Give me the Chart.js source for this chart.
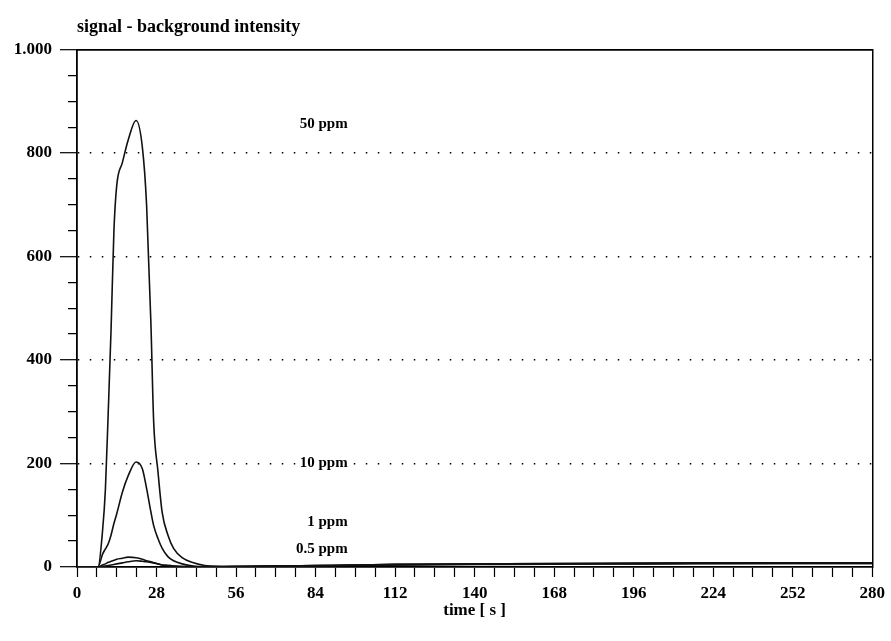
<!DOCTYPE html>
<html>
<head>
<meta charset="utf-8">
<script src="https://cdn.jsdelivr.net/npm/chart.js@4"></script>
<style>
  html, body { margin: 0; padding: 0; background: #fff; }
  #wrap { width: 891px; height: 641px; }
</style>
</head>
<body>
<div id="wrap"><canvas id="line"></canvas></div>
<script>
'use strict';

// time axis [s]
const times = [0, 4, 7.4, 9, 10, 11, 12, 13, 14, 16, 18, 20.8, 23, 24.5, 26, 27, 28.5, 30, 32, 34, 37, 41, 45, 55, 70, 90, 112, 150, 200, 250, 280];

// signal - background intensity for each concentration
const ppm50 = [0, 0, 0, 70, 150, 300, 460, 650, 738, 782, 825, 863, 812, 700, 475, 280, 185, 105, 62, 36, 18, 8, 3, 1, 2, 3, 5, 6, 7, 8, 8];
const ppm10 = [0, 0, 0, 25, 35, 45, 62, 84, 103, 145, 176, 203, 190, 152, 107, 80, 55, 36, 20, 12, 6, 2, 1, 1, 2, 3, 4, 6, 7, 7, 7];
const ppm1 = [0, 0, 0, 4, 6, 9, 11, 13, 15, 17, 19, 18, 15, 12, 10, 8, 6, 4, 3, 2, 1, 0, 0, 1, 2, 3, 4, 5, 6, 7, 7];
const ppm05 = [0, 0, 0, 1, 2, 3, 4, 5, 6, 8, 10, 12, 11, 10, 9, 8, 6, 4, 3, 2, 1, 0, 0, 1, 2, 3, 5, 6, 7, 8, 8];

const seriesNames = ['50 ppm', '10 ppm', '1 ppm', '0.5 ppm'];
const seriesValues = [ppm50, ppm10, ppm1, ppm05];

// tick values
const xMin = 0, xMax = 280, xStep = 7, xLabelStep = 28;
const yMin = 0, yMax = 1000, yStep = 50, yLabelStep = 200;

// where the curve names sit (time, value)
const nameTimes = [95.3, 95.3, 95.3, 95.3];
const nameValues = [855, 200, 87, 35];

const serif = "'Liberation Serif', 'DejaVu Serif', serif";

const curveNames = {
    id: 'curveNames',
    afterDatasetsDraw(chart) {
        const {ctx, scales: {x, y}} = chart;
        ctx.save();
        ctx.font = 'bold 15px ' + serif;
        ctx.textAlign = 'right';
        ctx.textBaseline = 'middle';
        seriesNames.forEach((name, i) => {
            const px = x.getPixelForValue(nameTimes[i]);
            const py = y.getPixelForValue(nameValues[i]);
            const w = ctx.measureText(name).width;
            ctx.fillStyle = '#fff';
            ctx.fillRect(px - w - 4, py - 8, w + 8, 16);
            ctx.fillStyle = '#000';
            ctx.fillText(name, px, py);
        });
        ctx.restore();
    }
};

const line = document.getElementById('line');
const lineChart = new Chart(line, {
    type: 'line',
    data: {
        datasets: seriesValues.map((vals, i) => ({
            label: seriesNames[i],
            data: times.map((t, j) => ({x: t, y: vals[j]})),
            borderColor: '#111',
            borderWidth: 1.6,
            pointRadius: 0,
            fill: false,
            cubicInterpolationMode: 'monotone'
        }))
    },
    options: {
        responsive: true,
        maintainAspectRatio: false,
        animation: false,
        layout: { padding: { left: 0, right: 4, top: 0, bottom: 0 } },
        plugins: {
            legend: { display: false },
            tooltip: { enabled: false },
            title: {
                display: true,
                text: 'signal - background intensity',
                align: 'start',
                fullSize: false,
                color: '#000',
                font: { family: serif, size: 18, weight: 'bold' },
                padding: { top: 17, bottom: 3 }
            }
        },
        scales: {
            x: {
                type: 'linear',
                min: xMin,
                max: xMax,
                afterFit: (s) => { s.height = 74; },
                ticks: {
                    stepSize: xStep,
                    autoSkip: false,
                    maxRotation: 0,
                    padding: 6,
                    color: '#000',
                    font: { family: serif, size: 17, weight: 'bold' },
                    callback: (v) => (v % xLabelStep === 0 ? String(v) : '')
                },
                grid: {
                    drawOnChartArea: false,
                    tickLength: 10,
                    tickColor: '#000',
                    tickWidth: 1.2
                },
                border: { color: '#000', width: 1.8 },
                title: {
                    display: true,
                    text: 'time [ s ]',
                    color: '#000',
                    font: { family: serif, size: 17, weight: 'bold' },
                    padding: { top: 4, bottom: 20 }
                }
            },
            y: {
                min: yMin,
                max: yMax,
                afterFit: (s) => { s.width = 77; },
                ticks: {
                    stepSize: yStep,
                    autoSkip: false,
                    padding: 8,
                    color: '#000',
                    font: { family: serif, size: 17, weight: 'bold' },
                    callback: (v) => {
                        if (v % yLabelStep !== 0) return '';
                        return v === 1000 ? '1.000' : String(v);
                    }
                },
                grid: {
                    color: (c) => (c.tick && c.tick.value % yLabelStep === 0 && c.tick.value > yMin && c.tick.value < yMax ? '#000' : 'rgba(0,0,0,0)'),
                    lineWidth: 1.4,
                    tickLength: 17,
                    tickColor: '#000',
                    tickWidth: 1.2,
                    // minor ticks: only the part next to the axis
                    tickBorderDash: (c) => (c.tick && c.tick.value % yLabelStep === 0 ? [] : [0, 8, 9, 100])
                },
                border: { color: '#000', width: 1.8, dash: [1.5, 10.5] }
            },
            x2: {
                type: 'linear',
                position: 'top',
                min: xMin,
                max: xMax,
                ticks: { display: false },
                grid: { display: false },
                border: { color: '#000', width: 1.8 }
            },
            y2: {
                position: 'right',
                min: yMin,
                max: yMax,
                ticks: { display: false },
                grid: { display: false },
                border: { color: '#000', width: 1.5 }
            }
        }
    },
    plugins: [curveNames]
});
</script>
</body>
</html>
